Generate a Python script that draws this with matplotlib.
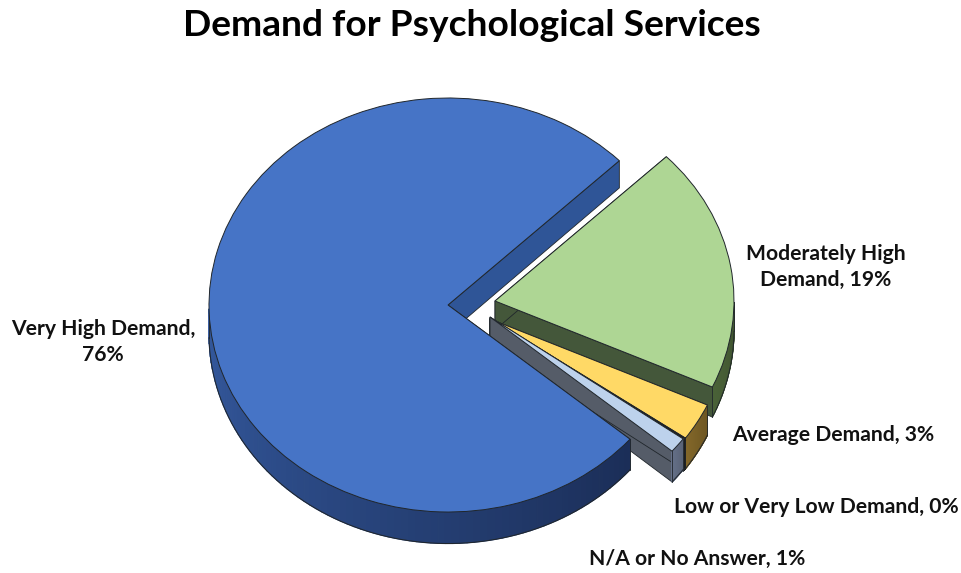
import numpy as np
import matplotlib
matplotlib.use("Agg")
import matplotlib.pyplot as plt
from matplotlib.colors import to_rgb

# chart data, order = clockwise from the lower cut of the big slice
categories = ["Very High Demand", "Moderately High Demand", "Average Demand",
              "Low or Very Low Demand", "N/A or No Answer"]
values = [76.5, 19.1, 3.0, 0.2, 1.2]
label_texts = ["Very High Demand,\n76%", "Moderately High\nDemand, 19%", "Average Demand, 3%",
               "Low or Very Low Demand, 0%", "N/A or No Answer, 1%"]

top_colors = ["#4674C6", "#AED694", "#FFD966", "#1E1E1E", "#BDD2EC"]
cut_colors = ["#2F5597", "#44573A", "#6B5420", "#1E1E1E", "#555C68"]
arc_light = ["#34599E", "#4A6238", "#85692A", "#1E1E1E", "#66718A"]
arc_dark = ["#1B2E58", "#3F5430", "#6F5722", "#1E1E1E", "#5A6478"]
label_pos = [(103, 342), (826, 267), (833, 435), (816, 507), (697, 559)]
# how far each slice is pulled out, pixels (perspective, so not along the slice middle)
pull_px = [(0, 0), (47, -4), (42, 14), (42, 13), (42, 12)]

W, H = 962, 573
CX, CY, RX, RY = 448, 305, 239, 207  # pie centre and radii in pixels
EDGE = "#20262B"


def depth(y):
    # a bit deeper towards the viewer, the original has some perspective
    return (29 - 2.5 * y) / RY


fig = plt.figure(figsize=(W / 100, H / 100), dpi=100)
ax = fig.add_axes([0, 0, 1, 1])
wedges, _ = ax.pie(values, startangle=-40.4, counterclock=False, colors=top_colors,
                   wedgeprops={"edgecolor": EDGE, "linewidth": 0.7})
ax.set_aspect("auto")
ax.set_xlim(-CX / RX, (W - CX) / RX)
ax.set_ylim((CY - H) / RY, CY / RY)
ax.axis("off")

for w, (dx, dy) in zip(wedges, pull_px):
    w.set_center((dx / RX, -dy / RY))

# green first, big blue slice last so it sits over the grey wall
for i in [1, 2, 3, 4, 0]:
    w = wedges[i]
    x0, y0 = w.center
    z = 2 + 2 * (i if i else 5)
    t1, t2 = w.theta1, w.theta2

    # flat walls on both cut edges
    for t in (t1, t2):
        xe = x0 + np.cos(np.radians(t))
        ye = y0 + np.sin(np.radians(t))
        ax.fill([x0, xe, xe, x0], [y0, ye, ye - depth(ye), y0 - depth(y0)],
                facecolor=cut_colors[i], edgecolor=EDGE, linewidth=0.6, zorder=z)

    # rim, only the part that faces down
    ts = np.linspace(t1, t2, 160)
    ts = ts[np.sin(np.radians(ts)) <= 0]
    if len(ts) > 1:
        xs = x0 + np.cos(np.radians(ts))
        ys = y0 + np.sin(np.radians(ts))
        ds = depth(ys)
        c1, c2 = np.array(to_rgb(arc_light[i])), np.array(to_rgb(arc_dark[i]))
        for k in range(len(ts) - 1):
            col = c1 + (c2 - c1) * k / (len(ts) - 2 or 1)
            ax.fill([xs[k], xs[k + 1], xs[k + 1], xs[k]],
                    [ys[k], ys[k + 1], ys[k + 1] - ds[k + 1], ys[k] - ds[k]],
                    facecolor=col, edgecolor=col, linewidth=0.9, zorder=z)
        ax.plot(xs, ys - ds, color=EDGE, linewidth=0.7, zorder=z)
        ax.plot([xs[0], xs[0]], [ys[0], ys[0] - ds[0]], color=EDGE, linewidth=0.6, zorder=z)
        ax.plot([xs[-1], xs[-1]], [ys[-1], ys[-1] - ds[-1]], color=EDGE, linewidth=0.6, zorder=z)

    w.set_zorder(z + 1)

for txt, (px, py) in zip(label_texts, label_pos):
    fig.text(px / W, 1 - py / H, txt, ha="center", va="center", family="Lato", fontweight="bold",
             fontsize=15.2, color="#111111", linespacing=1.42)

fig.text(471.5 / W, 1 - 25 / H, "Demand for Psychological Services", ha="center", va="center",
         family="Lato", fontweight="bold", fontsize=26.7, color="black")

fig.savefig("out.png", dpi=100)
